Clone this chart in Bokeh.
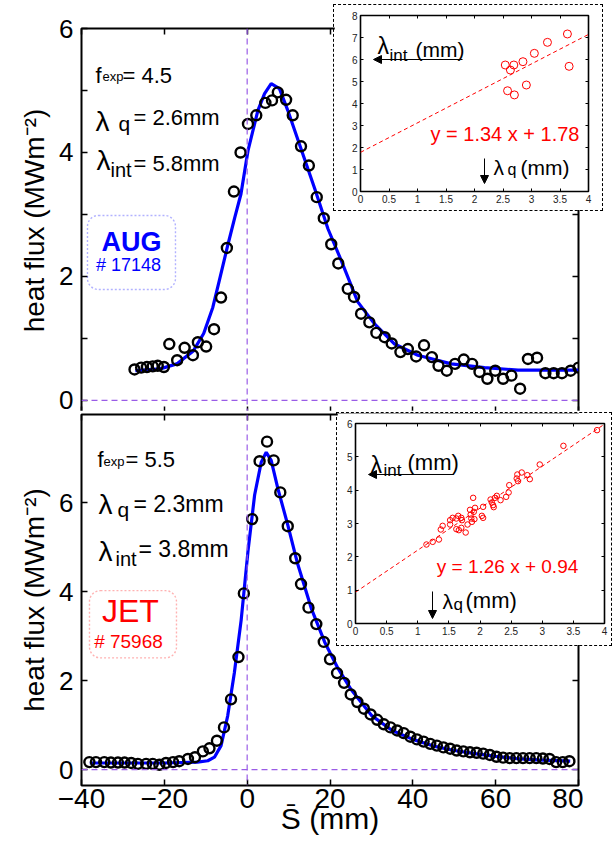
from bokeh.plotting import figure
from bokeh.layouts import column, row
from bokeh.models import (Range1d, FixedTicker, LinearAxis, Span, BoxAnnotation,
                          Arrow, NormalHead, CustomJSTickFormatter, CustomLabelingPolicy)
from bokeh.core.properties import value
from bokeh.embed import file_html
from bokeh.resources import INLINE

FONT = "Liberation Sans"
BLUE = "#0000ff"
RED = "#ff0000"
PURPLE = "#9a5ce6"

# ---------------- data ----------------
aug_s = [-27.2, -25.6, -24.2, -22.8, -21.6, -20.1, -18.8, -16.9, -15.1, -13.1, -11.9, -9.9,
         -8.0, -6.3, -4.9, -3.2, -1.6, 0.2, 2.2, 4.4, 6.0, 7.4, 9.4, 11.0, 13.0, 14.9, 16.8,
         18.5, 20.3, 22.0, 24.3, 25.8, 27.5, 29.5, 31.2, 33.2, 34.9, 37.0, 38.8, 40.8, 42.7,
         44.6, 46.2, 48.2, 50.2, 52.3, 54.3, 56.1, 58.0, 59.9, 61.8, 63.8, 65.9, 67.8, 70.0,
         72.0, 74.0, 76.0, 78.1, 80.0]
aug_q = [0.50, 0.53, 0.54, 0.55, 0.56, 0.54, 0.91, 0.65, 0.85, 0.73, 0.94, 0.87,
         1.15, 1.66, 2.46, 3.37, 4.00, 4.46, 4.60, 4.80, 4.84, 4.97, 4.85, 4.60, 4.10, 3.79, 3.28,
         2.94, 2.52, 2.21, 1.80, 1.67, 1.40, 1.26, 1.09, 1.02, 0.92, 0.78, 0.83, 0.71, 0.89,
         0.70, 0.56, 0.48, 0.59, 0.66, 0.59, 0.46, 0.35, 0.48, 0.35, 0.40, 0.19, 0.67, 0.69,
         0.44, 0.44, 0.44, 0.48, 0.53]
aug_fit_s = [-27, -21, -17, -13, -10.5, -8.3, -6.7, -4.7, -3, -1.5, 0.2, 2.6, 4.2, 5.8, 7.8,
             9.8, 13, 16.3, 19.5, 22.7, 26.7, 30.7, 35.6, 41.2, 49.3, 57.3, 65.4, 80]
aug_fit_q = [0.48, 0.51, 0.59, 0.80, 1.08, 1.50, 1.94, 2.50, 2.95, 3.33, 4.03, 4.68, 4.95, 5.11,
             5.03, 4.68, 4.06, 3.42, 2.77, 2.26, 1.59, 1.24, 0.91, 0.73, 0.59, 0.53, 0.49, 0.49]

jet_s = [-38.1, -36.5, -34.5, -32.9, -31.2, -29.6, -28.0, -26.4, -24.4, -22.8, -21.2, -19.6,
         -17.9, -16.4, -14.3, -12.6, -10.7, -9.1, -7.3, -5.6, -3.9, -2.1, -0.8, 1.2, 3.0, 4.8,
         6.4, 8.0, 9.8, 11.6, 13.0, 14.8, 16.7, 18.5, 20.0, 21.7, 23.4, 25.0, 26.6, 28.2, 29.8,
         31.4, 33.0, 34.6, 36.2, 37.8, 39.4, 41.0, 42.6, 44.2, 45.8, 47.4, 49.0, 50.6, 52.2,
         53.8, 55.4, 57.0, 58.6, 60.2, 61.8, 63.4, 65.0, 66.6, 68.2, 69.8, 71.4, 73.0, 74.6,
         76.2, 77.8]
jet_q = [0.17, 0.17, 0.17, 0.16, 0.16, 0.16, 0.15, 0.13, 0.13, 0.13, 0.11, 0.15,
         0.17, 0.19, 0.24, 0.28, 0.41, 0.48, 0.65, 0.95, 1.58, 2.53, 3.96, 5.63, 6.93, 7.37,
         6.95, 6.23, 5.47, 4.75, 4.17, 3.64, 3.27, 2.87, 2.48, 2.17, 1.95, 1.69, 1.52, 1.37, 1.24,
         1.12, 1.02, 0.95, 0.88, 0.82, 0.74, 0.68, 0.63, 0.58, 0.54, 0.50, 0.47, 0.43, 0.41,
         0.39, 0.38, 0.36, 0.33, 0.29, 0.27, 0.26, 0.26, 0.26, 0.26, 0.26, 0.25, 0.24, 0.17,
         0.17, 0.19]
jet_fit_s = [-38, -30, -20, -12, -9.5, -7.9, -6.3, -4.7, -3.1, -1.45, 0.2, 1.8, 3.4, 4.6, 5.8,
             7.4, 9.8, 12.2, 15.5, 18.7, 21.9, 25.1, 30, 35, 40, 45, 50, 55, 60, 65, 70, 78]
jet_fit_q = [0.15, 0.15, 0.15, 0.17, 0.20, 0.28, 0.54, 1.21, 2.17, 3.36, 4.91, 6.17, 6.91, 7.13,
             6.95, 6.32, 5.50, 4.62, 3.62, 2.87, 2.28, 1.80, 1.22, 0.88, 0.68, 0.53, 0.43, 0.36,
             0.30, 0.25, 0.22, 0.19]

aug_lq = [2.54, 2.63, 2.69, 2.85, 3.05, 3.28, 3.63, 2.58, 2.70, 2.91, 3.66]
aug_lint = [5.75, 5.52, 5.75, 5.90, 6.28, 6.78, 7.16, 4.58, 4.39, 4.84, 5.69]
aug_line_x = [0, 4]
aug_line_y = [1.78, 7.14]

jet_lq = [1.14, 1.24, 1.34, 1.37, 1.40, 1.52, 1.52, 1.56, 1.62, 1.62, 1.66, 1.65, 1.70, 1.70,
          1.71, 1.77, 1.80, 1.84, 1.85, 1.87, 1.86, 1.89, 1.90, 1.91, 1.92, 2.03, 2.05, 2.05,
          2.17, 2.19, 2.21, 2.22, 2.24, 2.27, 2.33, 2.42, 2.46, 2.47, 2.59, 2.60, 2.61, 2.67,
          2.76, 2.80, 2.96, 3.34, 3.88]
jet_lint = [2.37, 2.45, 2.52, 2.82, 2.93, 3.10, 2.97, 3.17, 3.15, 2.83, 2.80, 3.23, 2.87, 3.17,
            3.10, 2.73, 2.97, 3.41, 3.27, 3.05, 3.15, 3.77, 3.35, 3.13, 3.47, 3.23, 3.17, 3.50,
            3.72, 3.63, 3.55, 3.49, 3.77, 3.83, 3.70, 3.80, 3.93, 4.15, 4.35, 4.47, 4.27, 4.53,
            4.45, 4.33, 4.77, 5.33, 5.80]
jet_line_x = [0, 4]
jet_line_y = [0.94, 5.98]

x_ticks = [-40, -20, 0, 20, 40, 60, 80]
aug_y_ticks = [0, 2, 4, 6]
aug_y_minor = [1, 3, 5]
jet_y_ticks = [0, 2, 4, 6]
inset_x_ticks = [0, 0.5, 1, 1.5, 2, 2.5, 3, 3.5, 4]
aug_inset_y_ticks = [0, 1, 2, 3, 4, 5, 6, 7, 8]
jet_inset_y_ticks = [0, 1, 2, 3, 4, 5, 6]

minus_fmt = CustomJSTickFormatter(code="return tick < 0 ? '\u2212' + String(-tick) : String(tick);")
plain_fmt = CustomJSTickFormatter(code="return String(tick);")
no_labels = CustomLabelingPolicy(code="return new indices.constructor(indices.size, 0);")


def add_axis(p, side, ticks, minor=(), labeled=False, size="26px", tick_len=6,
             standoff=8, fmt=None, tick_w=1.5, color="black"):
    ax = LinearAxis(ticker=FixedTicker(ticks=list(ticks), minor_ticks=list(minor)))
    ax.axis_line_color = None
    ax.major_tick_in = tick_len
    ax.major_tick_out = 0
    ax.minor_tick_in = tick_len if minor else 0
    ax.minor_tick_out = 0
    ax.major_tick_line_color = "black"
    ax.major_tick_line_width = tick_w
    ax.minor_tick_line_color = "black"
    ax.minor_tick_line_width = tick_w
    if labeled:
        ax.major_label_text_font = FONT
        ax.major_label_text_font_size = size
        ax.major_label_text_color = color
        ax.major_label_standoff = standoff
        if fmt is not None:
            ax.formatter = fmt
    else:
        ax.major_label_policy = no_labels
        ax.major_label_text_font_size = "1px"
        ax.major_label_standoff = 0
    p.add_layout(ax, side)
    return ax


def put(p, x, y, s, size, color="black", align="left", baseline="alphabetic", style="normal"):
    p.text(x=[x], y=[y], text=[s], text_font=value(FONT), text_font_size=value(size),
           text_color=color, text_align=align, text_baseline=baseline,
           text_font_style=style)


def base_fig(width, height, xr, yr, bl, br, bt, bb):
    p = figure(width=width, height=height, x_range=xr, y_range=yr,
               output_backend="svg", toolbar_location=None,
               x_axis_location=None, y_axis_location=None,
               min_border_left=bl, min_border_right=br, min_border_top=bt, min_border_bottom=bb)
    p.grid.visible = False
    p.outline_line_color = "black"
    p.outline_line_width = 2
    p.background_fill_color = "white"
    p.border_fill_color = "white"
    return p


# reference-pixel -> data helpers for annotation placement
def X(px):
    return (px - 246.7) / 4.142


def Y1(py):
    return (400 - py) / 62.0


def Y2(py):
    return (771 - py) / 45.0


def XI1(px):
    return (px - 360) / 57.0


def YI1(py):
    return (191 - py) / 22.0


def XI2(px):
    return (px - 355) / 62.25


def YI2(py):
    return (625 - py) / 33.33


YLABEL = "heat flux (MWm\u207b\u00b2)"


def style_ylabel(ax):
    ax.axis_label = YLABEL
    ax.axis_label_text_font = FONT
    ax.axis_label_text_font_size = "28px"
    ax.axis_label_text_font_style = "normal"
    ax.axis_label_text_color = "black"
    ax.axis_label_standoff = 6


# ---------------- top main panel (AUG) ----------------
p1 = base_fig(583, 418, Range1d(-40, 80), Range1d(-0.194, 6), 81, 5, 28, 6)
style_ylabel(add_axis(p1, "left", aug_y_ticks, aug_y_minor, labeled=True, size="26px", standoff=8))
add_axis(p1, "right", aug_y_ticks, aug_y_minor)
add_axis(p1, "below", x_ticks)
add_axis(p1, "above", x_ticks)

p1.add_layout(Span(location=0, dimension="width", line_color=PURPLE, line_dash="6 4", line_width=1.2))
p1.add_layout(Span(location=0, dimension="height", line_color=PURPLE, line_dash="6 4", line_width=1.2))
p1.line(aug_fit_s, aug_fit_q, line_color=BLUE, line_width=3.2)
p1.scatter(aug_s, aug_q, marker="circle", size=10, fill_color=None, line_color="black", line_width=2.4)

put(p1, X(95), Y1(75), "f", "22px")
put(p1, X(102), Y1(76), "exp", "13px")
put(p1, X(122), Y1(75), "= 4.5", "22px")
put(p1, X(95), Y1(121), "\u03bb", "28px")
put(p1, X(118), Y1(123), "q", "21px")
put(p1, X(133), Y1(117), "= 2.6mm", "22px")
put(p1, X(96), Y1(160), "\u03bb", "28px")
put(p1, X(110), Y1(170), "int", "20px")
put(p1, X(133), Y1(163), "= 5.8mm", "22px")
p1.add_layout(BoxAnnotation(left=X(87), right=X(175), top=Y1(215), bottom=Y1(289),
                            border_radius=11, fill_alpha=0, line_color=BLUE,
                            line_dash="2 2", line_width=1.4))
put(p1, X(131), Y1(242), "AUG", "27px", BLUE, "center", "middle", "bold")
put(p1, X(128), Y1(265), "# 17148", "18px", BLUE, "center", "middle")

# ---------------- bottom main panel (JET) ----------------
p2 = base_fig(583, 430, Range1d(-40, 80), Range1d(-0.356, 7.98), 81, 5, 0, 55)
style_ylabel(add_axis(p2, "left", jet_y_ticks, labeled=True, size="26px", standoff=8))
add_axis(p2, "right", jet_y_ticks)
bx = add_axis(p2, "below", x_ticks, labeled=True, size="28px", standoff=3, fmt=minus_fmt)
bx.axis_label = "S\u0304 (mm)"
bx.axis_label_text_font = FONT
bx.axis_label_text_font_size = "30px"
bx.axis_label_text_font_style = "normal"
bx.axis_label_text_color = "black"
bx.axis_label_standoff = -9
add_axis(p2, "above", x_ticks)

p2.add_layout(Span(location=0, dimension="width", line_color=PURPLE, line_dash="6 4", line_width=1.2))
p2.add_layout(Span(location=0, dimension="height", line_color=PURPLE, line_dash="6 4", line_width=1.2))
p2.line(jet_fit_s, jet_fit_q, line_color=BLUE, line_width=3.2)
p2.scatter(jet_s, jet_q, marker="circle", size=10, fill_color=None, line_color="black", line_width=2.4)

put(p2, X(97), Y2(457), "f", "22px")
put(p2, X(103), Y2(459), "exp", "13px")
put(p2, X(125), Y2(457), "= 5.5", "22px")
put(p2, X(98), Y2(503), "\u03bb", "28px")
put(p2, X(117), Y2(508), "q", "21px")
put(p2, X(133), Y2(502), "= 2.3mm", "23px")
put(p2, X(98), Y2(550), "\u03bb", "28px")
put(p2, X(115), Y2(558), "int", "20px")
put(p2, X(138), Y2(548), "= 3.8mm", "23px")
p2.add_layout(BoxAnnotation(left=X(89), right=X(176), top=Y2(590), bottom=Y2(658),
                            border_radius=11, fill_alpha=0, line_color=RED,
                            line_dash="2 2", line_width=1.4))
put(p2, X(130), Y2(611), "JET", "32px", RED, "center", "middle")
put(p2, X(128), Y2(641), "# 75968", "19px", RED, "center", "middle")


# ---------------- insets ----------------
def make_inset(width, height, bl, br, bt, bb, ymax, yticks):
    p = base_fig(width, height, Range1d(0, 4), Range1d(0, ymax), bl, br, bt, bb)
    p.outline_line_width = 1.6
    add_axis(p, "left", yticks, labeled=True, size="10px", tick_len=3, standoff=3,
             fmt=plain_fmt, tick_w=1, color="#222222")
    add_axis(p, "below", inset_x_ticks, labeled=True, size="10px", tick_len=3, standoff=3,
             fmt=plain_fmt, tick_w=1, color="#222222")
    add_axis(p, "right", yticks, tick_len=3, tick_w=1)
    add_axis(p, "above", inset_x_ticks, tick_len=3, tick_w=1)
    p.styles = {"border": "1px dashed black"}
    return p


def arrow(p, x0, y0, x1, y1):
    p.add_layout(Arrow(end=NormalHead(size=8, fill_color="black", line_color="black", line_width=1),
                       x_start=x0, y_start=y0, x_end=x1, y_end=y1,
                       line_color="black", line_width=1))


i1 = make_inset(270, 207, 26, 16, 10, 21, 8, aug_inset_y_ticks)
i1.line(aug_line_x, aug_line_y, line_color=RED, line_dash="4 3", line_width=1)
i1.scatter(aug_lq, aug_lint, marker="circle", size=8, fill_color=None, line_color=RED, line_width=1)
put(i1, XI1(377), YI1(45), "\u03bb", "23px")
put(i1, XI1(389), YI1(55), "int", "17px")
put(i1, XI1(415), YI1(49), "(mm)", "21px")
arrow(i1, XI1(462), YI1(59), XI1(373), YI1(59))
put(i1, XI1(504.5), YI1(133), "y = 1.34 x + 1.78", "20px", RED, "center")
put(i1, XI1(493), YI1(167), "\u03bb", "21px")
put(i1, XI1(507), YI1(169), "q", "16px")
put(i1, XI1(520), YI1(167), "(mm)", "21px")
arrow(i1, XI1(484), YI1(158), XI1(484), YI1(183))

i2 = make_inset(276, 234, 18, 9, 10, 24, 6, jet_inset_y_ticks)
i2.line(jet_line_x, jet_line_y, line_color=RED, line_dash="4 3", line_width=1)
i2.scatter(jet_lq, jet_lint, marker="circle", size=5.5, fill_color=None, line_color=RED, line_width=1)
put(i2, XI2(370), YI2(466.7), "\u03bb", "23px")
put(i2, XI2(383), YI2(471.7), "int", "17px")
put(i2, XI2(407), YI2(464), "(mm)", "22px")
arrow(i2, XI2(453), YI2(476), XI2(368), YI2(476))
put(i2, XI2(507), YI2(568.3), "y = 1.26 x + 0.94", "19px", RED, "center")
put(i2, XI2(442), YI2(603.3), "\u03bb", "21px")
put(i2, XI2(453), YI2(606), "q", "17px")
put(i2, XI2(465), YI2(602.3), "(mm)", "22px")
arrow(i2, XI2(432), YI2(593), XI2(432), YI2(620))

# wrap insets so that they are not frame-aligned with the main panels; negative margins
# (top, right, bottom, left) pull them over the main panels
w1 = row(i1)
w2 = row(i2)
w1.margin = (4 - 418, 0, 412 - 213, 333)
w2.margin = (414 - 842, 0, 842 - 650, 336)

layout = column(p1, w1, p2, w2, spacing=0)

with open("out.html", "w") as f:
    f.write(file_html(layout, INLINE))
